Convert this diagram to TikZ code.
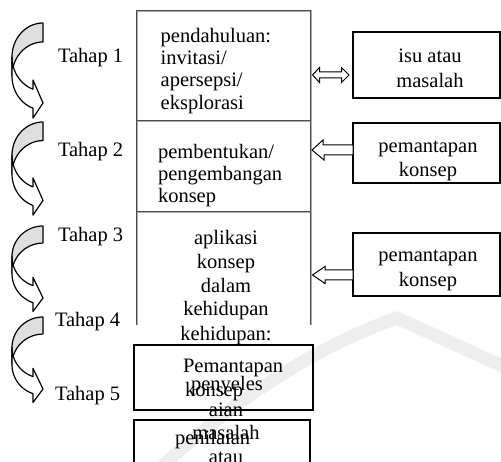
\documentclass[tikz,border=0pt]{standalone}
\usepackage{fontspec}
\setmainfont{Liberation Serif}
\usetikzlibrary{calc}
\newcommand{\bentarrow}[2]{%
 \begin{scope}[shift={(0,#1)}, yscale=#2]
  \filldraw[fill=gray!25, draw=black, line width=1.2pt, line join=round]
   plot[domain=0:90, samples=24] ({43-31*sin(\x)},{34-34*cos(\x)})
   -- plot[domain=90:0, samples=24] ({43-31*sin(\x)},{53-34*cos(\x)}) -- cycle;
  \filldraw[fill=white, draw=black, line width=1.2pt, line join=round]
   plot[domain=90:161.2, samples=24] ({43-31*sin(\x)},{34-34*cos(\x)})
   -- (33,57) -- (43,80) -- (33,95)
   -- plot[domain=161.2:90, samples=24] ({43-31*sin(\x)},{53-34*cos(\x)}) -- cycle;
 \end{scope}}
\begin{document}
\begin{tikzpicture}[x=1pt,y=-1pt,
  lbl/.style={inner sep=0pt, outer sep=0pt, font=\fontsize{20.5}{23}\selectfont},
  colline/.style={draw=gray!65, line width=2.8pt},
  colcore/.style={draw=black!70, line width=0.8pt},
  box/.style={draw=black, line width=1.3pt, inner sep=0pt, outer sep=0pt},
  hollow/.style={draw=black, fill=white, line width=1pt, line join=miter}]
\useasboundingbox (0,0) rectangle (501,462);
\clip (0,0) rectangle (501,462);
% watermark
\draw[gray!13, line width=13pt] (150,478) .. controls (230,400) and (320,345) .. (397,318) -- (520,374);
% left bent arrows
\bentarrow{23}{1}
\bentarrow{122}{0.98}
\bentarrow{226}{0.9}
\bentarrow{317}{0.9}
% tahap labels
\node[lbl, anchor=base west] (t1) at (58,63) {Tahap 1};
\node[lbl, anchor=base west] (t2) at (58,157) {Tahap 2};
\node[lbl, anchor=base west] (t3) at (58,242) {Tahap 3};
\node[lbl, anchor=base west] (t4) at (55,327) {Tahap 4};
\node[lbl, anchor=base west] (t5) at (55,400) {Tahap 5};
% middle column
\draw[colline] (137,9.6) -- (137,325);
\draw[colline] (311,9.6) -- (311,325);
\draw[colline] (137,11) -- (311,11);
\draw[colline] (137,121) -- (311,121);
\draw[colline] (137,212) -- (311,212);
\draw[colcore] (136.3,10.3) -- (136.3,325);
\draw[colcore] (310.3,10.3) -- (310.3,325);
\draw[colcore] (136.3,10.3) -- (311,10.3);
\draw[colcore] (136.3,120.3) -- (311,120.3);
\draw[colcore] (136.3,211.3) -- (311,211.3);
% box 1 text
\node[lbl, anchor=base west] (p1) at (160.7,43) {pendahuluan:};
\node[lbl, anchor=base west] (p2) at (160.7,65) {invitasi/};
\node[lbl, anchor=base west] (p3) at (160.7,87) {apersepsi/};
\node[lbl, anchor=base west] (p4) at (160.7,110) {eksplorasi};
% box 2 text
\node[lbl, anchor=base west] (q1) at (158,159) {pembentukan/};
\node[lbl, anchor=base west] (q2) at (158,181) {pengembangan};
\node[lbl, anchor=base west] (q3) at (158,203) {konsep};
% box 3 text
\node[lbl, anchor=base] (s1) at (226,245) {aplikasi};
\node[lbl, anchor=base] (s2) at (226,269) {konsep};
\node[lbl, anchor=base] (s3) at (226,293) {dalam};
\node[lbl, anchor=base] (s4) at (226,316) {kehidupan};
\node[lbl, anchor=base] (s5) at (226,341) {kehidupan:};
% box 4 and 5
\node[box, minimum width=179pt, minimum height=65pt] (b4) at (223.5,377.5) {};
\node[box, minimum width=176pt, minimum height=60pt] (b5) at (222,450) {};
\node[lbl, anchor=base west] (u1) at (183,373) {Pemantapan};
\node[lbl, anchor=base] (u2) at (227,391) {penyeles};
\node[lbl, anchor=base west] (u3) at (185,397) {konsep};
\node[lbl, anchor=base] (u4) at (226,417) {aian};
\node[lbl, anchor=base] (u5) at (226,439) {masalah};
\node[lbl, anchor=base west] (u6) at (175,445) {penilaian};
\node[lbl, anchor=base] (u7) at (226,464) {atau};
% right boxes
\node[box, minimum width=147pt, minimum height=66pt] (r1) at (426.5,65) {};
\node[box, minimum width=147pt, minimum height=60pt] (r2) at (426.5,153) {};
\node[box, minimum width=147pt, minimum height=63pt] (r3) at (426.5,264.5) {};
\node[lbl, anchor=base] (r1a) at (430,63) {isu atau};
\node[lbl, anchor=base] (r1b) at (430,88) {masalah};
\node[lbl, anchor=base] (r2a) at (428,153) {pemantapan};
\node[lbl, anchor=base] (r2b) at (428,177) {konsep};
\node[lbl, anchor=base] (r3a) at (428,262) {pemantapan};
\node[lbl, anchor=base] (r3b) at (428,287) {konsep};
% hollow arrows (tips at the column line, tails at the boxes)
\coordinate (a1tip) at (312.5,75);
\coordinate (a2tip) at (312,150);
\coordinate (a3tip) at (312.5,275);
\draw[hollow] (a1tip) -- ++(7,-7.5) -- ++(0,4.5) -- ++(22,0) -- ++(0,-4.5) -- ++(7.5,7.5)
   -- ++(-7.5,7.5) -- ++(0,-4.5) -- ++(-22,0) -- ++(0,4.5) -- cycle;
\draw[hollow] (a2tip) -- ++(11,-10) -- ++(0,5) -- ($(r2.west)+(0,-8)$) -- ($(r2.west)+(0,2)$)
   -- ++(-29,0) -- ++(0,5) -- cycle;
\draw[hollow] (a3tip) -- ++(12.5,-8.5) -- ++(0,3.5) -- ($(r3.west)+(0,5.5)$) -- ($(r3.west)+(0,15.5)$)
   -- ++(-28,0) -- ++(0,3.5) -- cycle;
\end{tikzpicture}
\end{document}
